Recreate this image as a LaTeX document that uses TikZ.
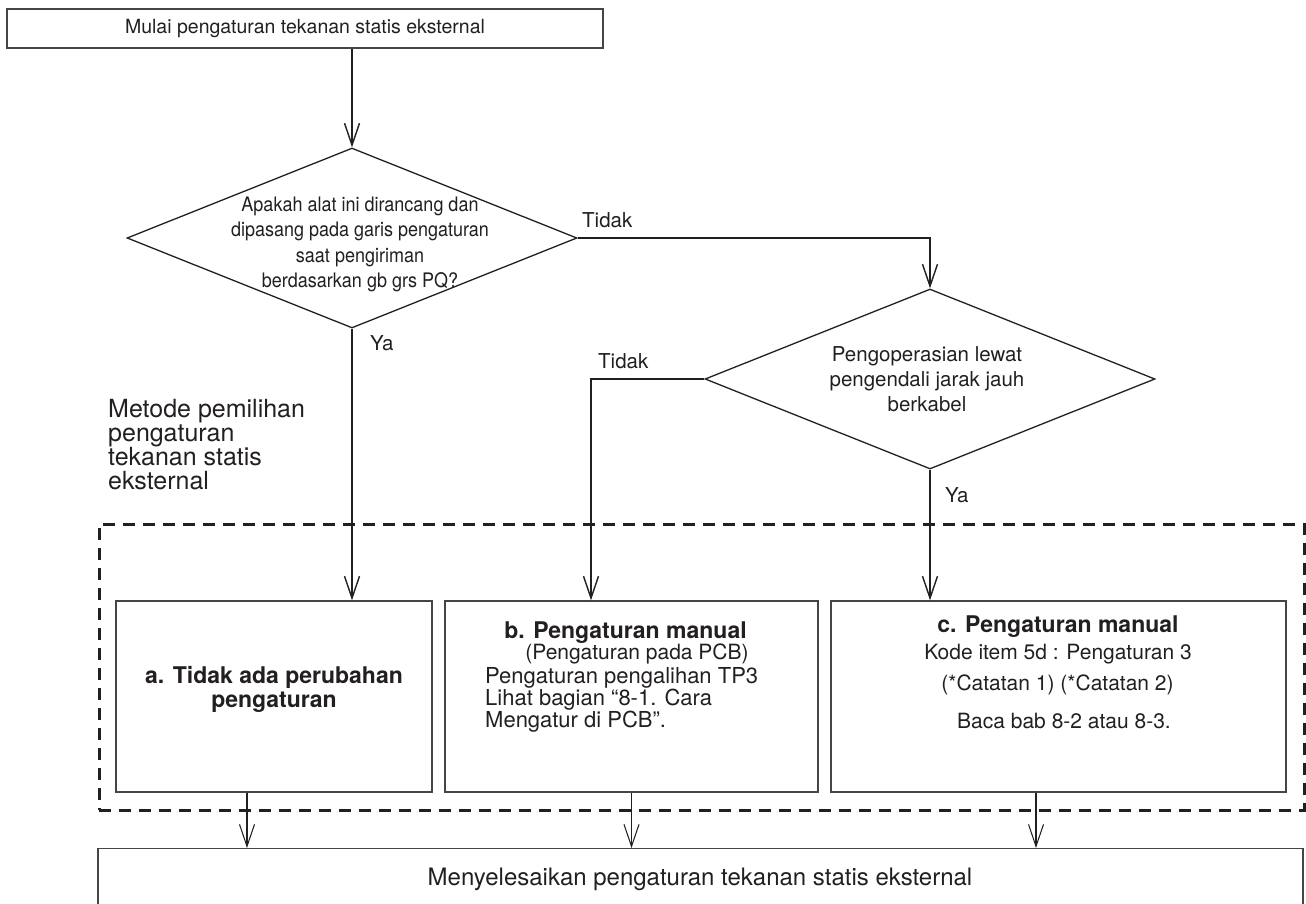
\documentclass[tikz,border=0pt]{standalone}
\usepackage{fontspec}
\setmainfont{TeX Gyre Heros}
\newfontfamily\narrowfont[FakeStretch=0.9]{TeX Gyre Heros}
\usepackage{xcolor}
\usepackage{tikz}
\usetikzlibrary{shapes.geometric,arrows.meta,positioning}
\definecolor{ink}{HTML}{231F20}
\definecolor{frame}{HTML}{454545}
\tikzset{>={Straight Barb[length=22pt,width=15pt,line width=0pt 0.7]}}

\begin{document}
\begin{tikzpicture}[x=1pt, y=-1pt,
                    every node/.style={text=ink, inner sep=0pt},
                    stepbox/.style={draw=frame, line width=1.3pt, rectangle},
                    decision/.style={draw=ink, line width=1.3pt, diamond, minimum width=450pt, minimum height=180pt},
                    flow/.style={->, line width=2pt, ink},
                    groupframe/.style={draw=ink, line width=3pt, dash pattern=on 12pt off 8pt},
                    body/.style={font=\fontsize{21}{22}\selectfont},
                    heading/.style={font=\fontsize{23}{24}\selectfont\bfseries},
                    answer/.style={font=\fontsize{20.5}{24}\selectfont, anchor=base west},
                   ]

\useasboundingbox (0,0) rectangle (1306,903);

% group of the three methods
\node[groupframe, minimum width=1205pt, minimum height=286pt] (group) at (701.5,667) {};

\node[stepbox, minimum width=596pt, minimum height=39pt, font=\fontsize{19.5}{22}\selectfont] (start) at (305,28.5) {Mulai pengaturan tekanan statis eksternal};

\node[decision] (q1) at (352,238) {};
\node[font=\fontsize{20}{25.5}\narrowfont, align=center] (q1txt) at (360,244.4) {Apakah alat ini dirancang dan\\dipasang pada garis pengaturan\\saat pengiriman\\berdasarkan gb grs PQ?};

\node[decision] (q2) at (930,379) {};
\node[font=\fontsize{20.5}{25}\selectfont, align=center] (q2txt) at (927,379.5) {Pengoperasian lewat\\pengendali jarak jauh\\berkabel};

\node[answer] (no1) at (582,227) {Tidak};
\node[answer] (no2) at (598,368) {Tidak};
\node[answer] (yes1) at (370,350) {Ya};
\node[answer] (yes2) at (945,502) {Ya};

\node[font=\fontsize{25}{24}\selectfont, align=left, anchor=west] (method) at (108,445) {Metode pemilihan\\pengaturan\\tekanan statis\\eksternal};

% method boxes
\node[stepbox, minimum width=316pt, minimum height=191pt] (boxa) at (274,696.5) {};
\node[stepbox, minimum width=373pt, minimum height=191pt] (boxb) at (631.5,696.5) {};
\node[stepbox, minimum width=455pt, minimum height=191pt] (boxc) at (1058.5,696.5) {};

\node[heading, align=center, anchor=north] (atxt) at (274,666.5) {a. Tidak ada perubahan\\pengaturan};

\node[heading, anchor=base] (btitle) at (625.5,638) {b. Pengaturan manual};
\node[body, anchor=base] (bsub) at (637,659) {(Pengaturan pada PCB)};
\node[body, font=\fontsize{22}{22}\selectfont, align=left, anchor=north west] (bbody) at (485,667) {Pengaturan pengalihan TP3\\Lihat bagian “8-1. Cara\\Mengatur di PCB”.};

\node[heading, anchor=base] (ctitle) at (1058,632) {c. Pengaturan manual};
\node[body, anchor=base] (ccode) at (1058,659) {Kode item 5d : Pengaturan 3};
\node[body, anchor=base] (cnote) at (1057.5,690) {(*Catatan 1) (*Catatan 2)};
\node[body, anchor=base] (cread) at (1064,728) {Baca bab 8-2 atau 8-3.};

\node[stepbox, minimum width=1205pt, minimum height=100pt, anchor=north] (finish) at (700.5,848) {};
\node[font=\fontsize{24}{26}\selectfont, anchor=base] (fintxt) at (700,885) {Menyelesaikan pengaturan tekanan statis eksternal};

% connectors
\draw[flow] (start.south -| q1.north) -- (q1.north);
\draw[flow] (q1.east) -| (q2.north);
\draw[flow] (q1.south) -- (q1.south |- boxa.north);
\coordinate (bin) at ([xshift=-40.5pt]boxb.north);
\draw[flow] (q2.west) -| (bin);
\draw[flow] (q2.south) -- (q2.south |- boxc.north);

\coordinate (aout) at ([xshift=-27pt]boxa.south);
\coordinate (cout) at ([xshift=-22.5pt]boxc.south);
\foreach \p in {aout, boxb.south, cout}
  \draw[flow, line width=1.5pt] (\p) -- (\p |- finish.north);

\end{tikzpicture}
\end{document}
